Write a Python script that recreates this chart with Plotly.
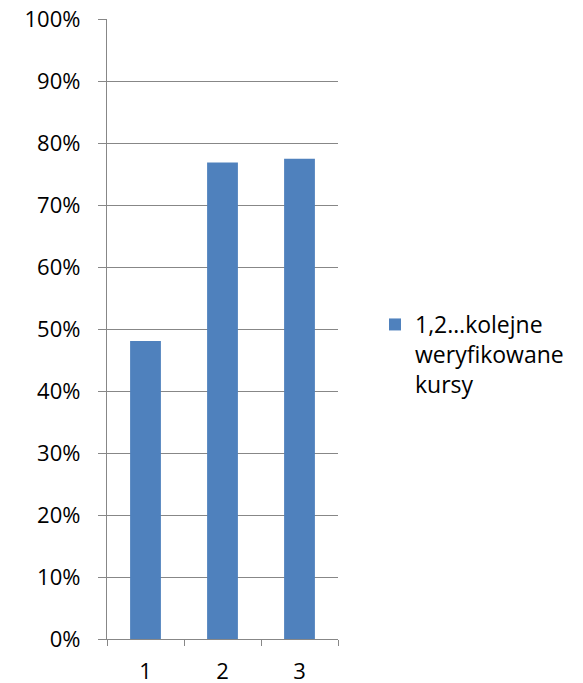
import plotly.graph_objects as go

categories = ["1", "2", "3"]
values = [0.481, 0.769, 0.775]
series_name = "1,2…kolejne<br>weryfikowane<br>kursy"
y_ticks = [0, 0.1, 0.2, 0.3, 0.4, 0.5, 0.6, 0.7, 0.8, 0.9, 1.0]

BAR = "#4F81BD"
GRID = "#878787"
FONT = "Open Sans, Noto Sans, sans-serif"

# page body has an 8px margin, so the figure is 575x675 placed at (8, 8)
W, H = 575, 675
L, R, T, B = 99, 245, 11, 44
PW, PH = W - L - R, H - T - B

fig = go.Figure()
fig.add_trace(go.Bar(
    x=categories, y=values, name=series_name,
    marker=dict(color=BAR, line=dict(width=0)),
    width=0.4, showlegend=True,
))

fig.update_layout(
    width=W, height=H,
    margin=dict(l=L, r=R, t=T, b=B, autoexpand=False),
    paper_bgcolor="white", plot_bgcolor="white",
    font=dict(family=FONT, size=22, color="#000000"),
    showlegend=True,
    legend=dict(
        x=268 / PW, xanchor="left",
        y=(T + PH - 295) / PH, yanchor="top",
        valign="top", font=dict(size=23), bgcolor="rgba(0,0,0,0)",
        tracegroupgap=0,
    ),
    bargap=0.6,
)

fig.update_yaxes(
    range=[0, 1.0005], tickvals=y_ticks, tickformat=".0%",
    showgrid=True, gridcolor=GRID, gridwidth=1.3,
    zeroline=False, showline=True, linecolor=GRID, linewidth=1.3,
    ticks="outside", ticklen=8, tickcolor=GRID, tickwidth=1.3,
    ticklabelstandoff=13, automargin=False, ticklabeloverflow="allow",
    fixedrange=True,
)
fig.update_xaxes(
    type="category", range=[-0.5, 2.5],
    showgrid=False, zeroline=False, showline=True, linecolor=GRID, linewidth=1.3,
    ticks="outside", ticklen=6, tickcolor=GRID, tickwidth=1.3,
    tickson="boundaries", ticklabelstandoff=12, automargin=False,
    ticklabeloverflow="allow",
    fixedrange=True,
)

fig.add_shape(type="rect", xref="paper", yref="paper",
              x0=474 / PW, x1=480 / PW, y0=-1, y1=2,
              fillcolor="#f3f6fb", line=dict(width=0), layer="below")

fig.write_html("out.html")
